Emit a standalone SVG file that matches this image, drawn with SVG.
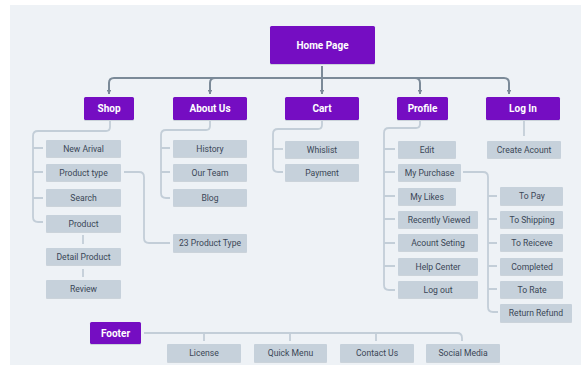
<svg xmlns="http://www.w3.org/2000/svg" width="581" height="366" viewBox="0 0 581 366">
<defs>
<marker id="arr" viewBox="0 0 10 10" refX="9" refY="5" markerWidth="4.5" markerHeight="4.5" orient="auto" markerUnits="userSpaceOnUse">
<path d="M0,0 L10,5 L0,10 z" fill="#7b8a98"/>
</marker>
<filter id="sh" x="-10%" y="-20%" width="120%" height="150%">
<feDropShadow dx="0" dy="1" stdDeviation="0.6" flood-color="#8a98a6" flood-opacity="0.35"/>
</filter>
</defs>
<style>
.p{fill:#7510c2;filter:url(#sh)}
.g{fill:#c6d1db;filter:url(#sh)}
.pt{fill:#ffffff;font-family:Roboto,"Liberation Sans",sans-serif;font-weight:bold;font-size:10px;text-anchor:middle;dominant-baseline:central}
.gt{fill:#3a4656;font-family:Roboto,"Liberation Sans",sans-serif;font-size:8.6px;text-anchor:middle;dominant-baseline:central}
.top{fill:none;stroke:#7b8a98;stroke-width:2}
.c{fill:none;stroke:#c3ced8;stroke-width:1.8}
</style>
<rect x="0" y="0" width="581" height="366" fill="#ffffff"/>
<rect x="10" y="5" width="571" height="360" fill="#eef2f6"/>

<g id="connectors">
<path class="top" d="M322,78 H114 Q109,78 109,83 V94" marker-end="url(#arr)"/>
<path class="top" d="M322,78 H215 Q210,78 210,83 V94" marker-end="url(#arr)"/>
<path class="top" d="M322,66 V94" marker-end="url(#arr)"/>
<path class="top" d="M322,78 H415 Q420,78 420,83 V94" marker-end="url(#arr)"/>
<path class="top" d="M322,78 H504 Q509,78 509,83 V94" marker-end="url(#arr)"/>
<!-- Shop -->
<path class="c" d="M110,121 V127 Q110,131 106,131 H38 Q33,131 33,136 V217 Q33,222 38,222 H43"/>
<path class="c" d="M33,148 H43 M33,172 H43 M33,198 H43"/>
<path class="c" d="M83,235 V244 M83,269 V277"/>
<path class="c" d="M124,172 H139 Q144,172 144,177 V238 Q144,243 149,243 H170"/>
<!-- About Us -->
<path class="c" d="M210,121 V126 Q210,130 206,130 H166 Q161,130 161,135 V193 Q161,198 166,198 H170"/>
<path class="c" d="M161,148 H170 M161,172 H170"/>
<!-- Cart -->
<path class="c" d="M322,121 V125 Q322,129 318,129 H278 Q273,129 273,134 V167 Q273,172 278,172 H283"/>
<path class="c" d="M273,149 H283"/>
<!-- Profile -->
<path class="c" d="M420,121 V124 Q420,128 416,128 H389 Q384,128 384,133 V285 Q384,290 389,290 H395"/>
<path class="c" d="M384,149 H395 M384,172 H395 M384,196 H395 M384,219 H395 M384,243 H395 M384,266 H395"/>
<!-- Log In -->
<path class="c" d="M524,121 V136"/>
<!-- My Purchase -->
<path class="c" d="M463,172 H483 Q488,172 488,177 V307 Q488,312 493,312 H498"/>
<path class="c" d="M488,196 H497 M488,219 H497 M488,243 H497 M488,266 H497 M488,289 H497"/>
<!-- Footer -->
<path class="c" d="M144,333 H457 Q462,333 462,338 V341"/>
<path class="c" d="M204,333 V341 M290,333 V341 M376,333 V341"/>
</g>

<g id="home"><rect class="p" x="270" y="26" width="105" height="38" rx="1.5"/><text class="pt" x="322.5" y="45">Home Page</text></g>
<g id="shop"><rect class="p" x="84" y="97" width="50" height="23" rx="1.5"/><text class="pt" x="109" y="108.5">Shop</text></g>
<g id="about"><rect class="p" x="173" y="97" width="74" height="23" rx="1.5"/><text class="pt" x="210" y="108.5">About Us</text></g>
<g id="cart"><rect class="p" x="285" y="97" width="74" height="23" rx="1.5"/><text class="pt" x="322" y="108.5">Cart</text></g>
<g id="profile"><rect class="p" x="397" y="97" width="51" height="23" rx="1.5"/><text class="pt" x="422.5" y="108.5">Profile</text></g>
<g id="login"><rect class="p" x="486" y="97" width="74" height="23" rx="1.5"/><text class="pt" x="523" y="108.5">Log In</text></g>

<g id="new-arival"><rect class="g" x="46" y="140" width="75" height="17" rx="1"/><text class="gt" x="83.5" y="148.5">New Arival</text></g>
<g id="product-type"><rect class="g" x="46" y="164" width="75" height="17" rx="1"/><text class="gt" x="83.5" y="172.5">Product type</text></g>
<g id="search"><rect class="g" x="46" y="189" width="75" height="17" rx="1"/><text class="gt" x="83.5" y="197.5">Search</text></g>
<g id="product"><rect class="g" x="46" y="215" width="75" height="17" rx="1"/><text class="gt" x="83.5" y="223.5">Product</text></g>
<g id="detail-product"><rect class="g" x="46" y="248" width="75" height="17" rx="1"/><text class="gt" x="83.5" y="256.5">Detail Product</text></g>
<g id="review"><rect class="g" x="46" y="280" width="75" height="18" rx="1"/><text class="gt" x="83.5" y="289">Review</text></g>
<g id="product-type-23"><rect class="g" x="173" y="234" width="74" height="18" rx="1"/><text class="gt" x="210" y="243">23 Product Type</text></g>

<g id="history"><rect class="g" x="173" y="140" width="74" height="17" rx="1"/><text class="gt" x="210" y="148.5">History</text></g>
<g id="our-team"><rect class="g" x="173" y="164" width="74" height="17" rx="1"/><text class="gt" x="210" y="172.5">Our Team</text></g>
<g id="blog"><rect class="g" x="173" y="189" width="74" height="17" rx="1"/><text class="gt" x="210" y="197.5">Blog</text></g>

<g id="whislist"><rect class="g" x="285" y="141" width="74" height="17" rx="1"/><text class="gt" x="322" y="149.5">Whislist</text></g>
<g id="payment"><rect class="g" x="285" y="164" width="74" height="17" rx="1"/><text class="gt" x="322" y="172.5">Payment</text></g>

<g id="edit"><rect class="g" x="398" y="141" width="58" height="17" rx="1"/><text class="gt" x="427" y="149.5">Edit</text></g>
<g id="my-purchase"><rect class="g" x="398" y="164" width="63" height="17" rx="1"/><text class="gt" x="429.5" y="172.5">My Purchase</text></g>
<g id="my-likes"><rect class="g" x="398" y="188" width="58" height="17" rx="1"/><text class="gt" x="427" y="196.5">My Likes</text></g>
<g id="recently-viewed"><rect class="g" x="398" y="211" width="80" height="17" rx="1"/><text class="gt" x="439" y="219.5">Recently Viewed</text></g>
<g id="acount-seting"><rect class="g" x="398" y="234" width="80" height="17" rx="1"/><text class="gt" x="438" y="242.5">Acount Seting</text></g>
<g id="help-center"><rect class="g" x="398" y="258" width="80" height="17" rx="1"/><text class="gt" x="438" y="266.5">Help Center</text></g>
<g id="log-out"><rect class="g" x="398" y="281" width="80" height="17" rx="1"/><text class="gt" x="438" y="289.5">Log out</text></g>

<g id="create-acount"><rect class="g" x="487" y="141" width="74" height="17" rx="1"/><text class="gt" x="524" y="149.5">Create Acount</text></g>

<g id="to-pay"><rect class="g" x="500" y="187" width="63" height="18" rx="1"/><text class="gt" x="532" y="196">To Pay</text></g>
<g id="to-shipping"><rect class="g" x="500" y="211" width="63" height="17" rx="1"/><text class="gt" x="532" y="219.5">To Shipping</text></g>
<g id="to-reiceve"><rect class="g" x="500" y="234" width="63" height="17" rx="1"/><text class="gt" x="532" y="242.5">To Reiceve</text></g>
<g id="completed"><rect class="g" x="500" y="258" width="63" height="17" rx="1"/><text class="gt" x="532" y="266.5">Completed</text></g>
<g id="to-rate"><rect class="g" x="500" y="281" width="63" height="17" rx="1"/><text class="gt" x="532" y="289.5">To Rate</text></g>
<g id="return-refund"><rect class="g" x="500" y="304" width="72" height="18" rx="1"/><text class="gt" x="536" y="313">Return Refund</text></g>

<g id="footer"><rect class="p" x="90" y="322" width="51" height="22" rx="1.5"/><text class="pt" x="115.5" y="333">Footer</text></g>
<g id="license"><rect class="g" x="167" y="344" width="74" height="18" rx="1"/><text class="gt" x="204" y="353">License</text></g>
<g id="quick-menu"><rect class="g" x="254" y="344" width="73" height="18" rx="1"/><text class="gt" x="290.5" y="353">Quick Menu</text></g>
<g id="contact-us"><rect class="g" x="340" y="344" width="74" height="18" rx="1"/><text class="gt" x="377" y="353">Contact Us</text></g>
<g id="social-media"><rect class="g" x="426" y="344" width="74" height="18" rx="1"/><text class="gt" x="463" y="353">Social Media</text></g>
</svg>
